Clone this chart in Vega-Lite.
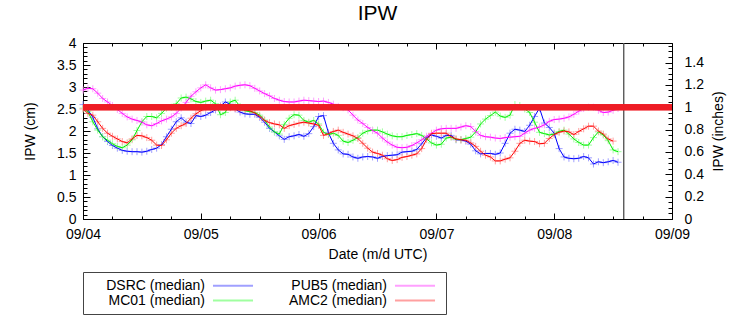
{
"$schema":"https://vega.github.io/schema/vega-lite/v6.json",
"autosize":{"type":"none"},
"padding":{"left":83,"top":43,"right":84,"bottom":105},
"width":589,"height":176,
"title":{"text":"IPW","font":"Liberation Sans","fontSize":21,"fontWeight":"normal","color":"black","offset":12,"anchor":"middle"},
"config":{"font":"Liberation Sans","view":{"stroke":"black","strokeWidth":1},
"axis":{"grid":false,"domain":false,"labelFont":"Liberation Sans","labelFontSize":14,"labelColor":"black","titleFont":"Liberation Sans","titleFontSize":14,"titleFontWeight":"normal","titleColor":"black","tickColor":"black","labelFlush":false,"labelOverlap":false}},
"datasets":{"ipw":[
{"t":"2024-09-04T00:00","DSRC":2.60,"MC01":2.52,"PUB5":2.93,"AMC2":2.50},
{"t":"2024-09-04T01:00","DSRC":2.48,"MC01":2.44,"PUB5":2.97,"AMC2":2.40},
{"t":"2024-09-04T02:00","DSRC":2.31,"MC01":2.21,"PUB5":2.96,"AMC2":2.36},
{"t":"2024-09-04T03:00","DSRC":2.05,"MC01":2.02,"PUB5":2.86,"AMC2":2.21},
{"t":"2024-09-04T04:00","DSRC":1.87,"MC01":1.87,"PUB5":2.74,"AMC2":2.06},
{"t":"2024-09-04T05:00","DSRC":1.76,"MC01":1.79,"PUB5":2.66,"AMC2":1.95},
{"t":"2024-09-04T06:00","DSRC":1.67,"MC01":1.71,"PUB5":2.58,"AMC2":1.88},
{"t":"2024-09-04T07:00","DSRC":1.61,"MC01":1.65,"PUB5":2.49,"AMC2":1.82},
{"t":"2024-09-04T08:00","DSRC":1.56,"MC01":1.62,"PUB5":2.40,"AMC2":1.76},
{"t":"2024-09-04T09:00","DSRC":1.54,"MC01":1.68,"PUB5":2.32,"AMC2":1.73},
{"t":"2024-09-04T10:00","DSRC":1.53,"MC01":1.80,"PUB5":2.27,"AMC2":1.82},
{"t":"2024-09-04T11:00","DSRC":1.53,"MC01":2.01,"PUB5":2.24,"AMC2":1.90},
{"t":"2024-09-04T12:00","DSRC":1.52,"MC01":2.21,"PUB5":2.20,"AMC2":1.89},
{"t":"2024-09-04T13:00","DSRC":1.54,"MC01":2.33,"PUB5":2.14,"AMC2":1.85},
{"t":"2024-09-04T14:00","DSRC":1.58,"MC01":2.33,"PUB5":2.12,"AMC2":1.79},
{"t":"2024-09-04T15:00","DSRC":1.61,"MC01":2.30,"PUB5":2.17,"AMC2":1.68},
{"t":"2024-09-04T16:00","DSRC":1.69,"MC01":2.40,"PUB5":2.23,"AMC2":1.67},
{"t":"2024-09-04T17:00","DSRC":1.87,"MC01":2.52,"PUB5":2.27,"AMC2":1.80},
{"t":"2024-09-04T18:00","DSRC":2.04,"MC01":2.54,"PUB5":2.32,"AMC2":1.95},
{"t":"2024-09-04T19:00","DSRC":2.21,"MC01":2.62,"PUB5":2.40,"AMC2":2.06},
{"t":"2024-09-04T20:00","DSRC":2.30,"MC01":2.75,"PUB5":2.52,"AMC2":2.12},
{"t":"2024-09-04T21:00","DSRC":2.20,"MC01":2.77,"PUB5":2.65,"AMC2":2.17},
{"t":"2024-09-04T22:00","DSRC":2.17,"MC01":2.73,"PUB5":2.79,"AMC2":2.29},
{"t":"2024-09-04T23:00","DSRC":2.35,"MC01":2.67,"PUB5":2.89,"AMC2":2.39},
{"t":"2024-09-05T00:00","DSRC":2.33,"MC01":2.65,"PUB5":2.98,"AMC2":2.46},
{"t":"2024-09-05T01:00","DSRC":2.36,"MC01":2.68,"PUB5":3.05,"AMC2":2.52},
{"t":"2024-09-05T02:00","DSRC":2.42,"MC01":2.70,"PUB5":2.98,"AMC2":2.52},
{"t":"2024-09-05T03:00","DSRC":2.48,"MC01":2.62,"PUB5":2.93,"AMC2":2.53},
{"t":"2024-09-05T04:00","DSRC":2.57,"MC01":2.37,"PUB5":2.94,"AMC2":2.55},
{"t":"2024-09-05T05:00","DSRC":2.66,"MC01":2.42,"PUB5":2.96,"AMC2":2.55},
{"t":"2024-09-05T06:00","DSRC":2.61,"MC01":2.66,"PUB5":2.98,"AMC2":2.53},
{"t":"2024-09-05T07:00","DSRC":2.50,"MC01":2.70,"PUB5":3.02,"AMC2":2.51},
{"t":"2024-09-05T08:00","DSRC":2.43,"MC01":2.56,"PUB5":3.04,"AMC2":2.48},
{"t":"2024-09-05T09:00","DSRC":2.39,"MC01":2.46,"PUB5":3.05,"AMC2":2.48},
{"t":"2024-09-05T10:00","DSRC":2.38,"MC01":2.44,"PUB5":3.03,"AMC2":2.46},
{"t":"2024-09-05T11:00","DSRC":2.38,"MC01":2.42,"PUB5":2.97,"AMC2":2.41},
{"t":"2024-09-05T12:00","DSRC":2.31,"MC01":2.36,"PUB5":2.91,"AMC2":2.33},
{"t":"2024-09-05T13:00","DSRC":2.20,"MC01":2.25,"PUB5":2.85,"AMC2":2.24},
{"t":"2024-09-05T14:00","DSRC":2.06,"MC01":2.09,"PUB5":2.80,"AMC2":2.19},
{"t":"2024-09-05T15:00","DSRC":1.98,"MC01":1.98,"PUB5":2.74,"AMC2":2.16},
{"t":"2024-09-05T16:00","DSRC":1.89,"MC01":1.93,"PUB5":2.70,"AMC2":2.14},
{"t":"2024-09-05T17:00","DSRC":1.81,"MC01":2.15,"PUB5":2.67,"AMC2":2.06},
{"t":"2024-09-05T18:00","DSRC":1.87,"MC01":2.29,"PUB5":2.66,"AMC2":2.12},
{"t":"2024-09-05T19:00","DSRC":1.89,"MC01":2.37,"PUB5":2.66,"AMC2":2.15},
{"t":"2024-09-05T20:00","DSRC":1.92,"MC01":2.36,"PUB5":2.68,"AMC2":2.18},
{"t":"2024-09-05T21:00","DSRC":1.88,"MC01":2.24,"PUB5":2.70,"AMC2":2.20},
{"t":"2024-09-05T22:00","DSRC":1.94,"MC01":2.20,"PUB5":2.69,"AMC2":2.18},
{"t":"2024-09-05T23:00","DSRC":2.10,"MC01":2.24,"PUB5":2.68,"AMC2":2.16},
{"t":"2024-09-06T00:00","DSRC":2.33,"MC01":2.16,"PUB5":2.67,"AMC2":2.13},
{"t":"2024-09-06T01:00","DSRC":2.35,"MC01":1.97,"PUB5":2.68,"AMC2":1.90},
{"t":"2024-09-06T02:00","DSRC":1.96,"MC01":1.92,"PUB5":2.65,"AMC2":1.94},
{"t":"2024-09-06T03:00","DSRC":1.72,"MC01":1.95,"PUB5":2.61,"AMC2":1.99},
{"t":"2024-09-06T04:00","DSRC":1.57,"MC01":1.90,"PUB5":2.56,"AMC2":2.02},
{"t":"2024-09-06T05:00","DSRC":1.48,"MC01":1.77,"PUB5":2.53,"AMC2":1.97},
{"t":"2024-09-06T06:00","DSRC":1.47,"MC01":1.74,"PUB5":2.48,"AMC2":1.93},
{"t":"2024-09-06T07:00","DSRC":1.41,"MC01":1.79,"PUB5":2.36,"AMC2":1.89},
{"t":"2024-09-06T08:00","DSRC":1.38,"MC01":1.85,"PUB5":2.25,"AMC2":1.83},
{"t":"2024-09-06T09:00","DSRC":1.41,"MC01":1.95,"PUB5":2.17,"AMC2":1.72},
{"t":"2024-09-06T10:00","DSRC":1.42,"MC01":2.00,"PUB5":2.08,"AMC2":1.61},
{"t":"2024-09-06T11:00","DSRC":1.41,"MC01":2.02,"PUB5":2.01,"AMC2":1.52},
{"t":"2024-09-06T12:00","DSRC":1.38,"MC01":2.02,"PUB5":1.95,"AMC2":1.49},
{"t":"2024-09-06T13:00","DSRC":1.42,"MC01":1.98,"PUB5":1.84,"AMC2":1.45},
{"t":"2024-09-06T14:00","DSRC":1.44,"MC01":1.93,"PUB5":1.75,"AMC2":1.37},
{"t":"2024-09-06T15:00","DSRC":1.45,"MC01":1.89,"PUB5":1.68,"AMC2":1.33},
{"t":"2024-09-06T16:00","DSRC":1.46,"MC01":1.87,"PUB5":1.63,"AMC2":1.35},
{"t":"2024-09-06T17:00","DSRC":1.52,"MC01":1.87,"PUB5":1.62,"AMC2":1.40},
{"t":"2024-09-06T18:00","DSRC":1.53,"MC01":1.90,"PUB5":1.63,"AMC2":1.42},
{"t":"2024-09-06T19:00","DSRC":1.54,"MC01":1.92,"PUB5":1.67,"AMC2":1.45},
{"t":"2024-09-06T20:00","DSRC":1.58,"MC01":1.94,"PUB5":1.73,"AMC2":1.48},
{"t":"2024-09-06T21:00","DSRC":1.71,"MC01":1.90,"PUB5":1.80,"AMC2":1.60},
{"t":"2024-09-06T22:00","DSRC":1.85,"MC01":1.82,"PUB5":1.88,"AMC2":1.81},
{"t":"2024-09-06T23:00","DSRC":1.91,"MC01":1.73,"PUB5":1.95,"AMC2":1.94},
{"t":"2024-09-07T00:00","DSRC":1.88,"MC01":1.68,"PUB5":2.02,"AMC2":1.95},
{"t":"2024-09-07T01:00","DSRC":1.84,"MC01":1.70,"PUB5":2.05,"AMC2":1.95},
{"t":"2024-09-07T02:00","DSRC":1.90,"MC01":1.84,"PUB5":2.06,"AMC2":1.95},
{"t":"2024-09-07T03:00","DSRC":1.90,"MC01":1.86,"PUB5":2.06,"AMC2":1.87},
{"t":"2024-09-07T04:00","DSRC":1.80,"MC01":1.81,"PUB5":2.06,"AMC2":1.82},
{"t":"2024-09-07T05:00","DSRC":1.80,"MC01":1.80,"PUB5":2.09,"AMC2":1.80},
{"t":"2024-09-07T06:00","DSRC":1.77,"MC01":1.83,"PUB5":2.12,"AMC2":1.79},
{"t":"2024-09-07T07:00","DSRC":1.70,"MC01":1.86,"PUB5":2.10,"AMC2":1.73},
{"t":"2024-09-07T08:00","DSRC":1.55,"MC01":1.98,"PUB5":1.99,"AMC2":1.65},
{"t":"2024-09-07T09:00","DSRC":1.48,"MC01":2.16,"PUB5":1.90,"AMC2":1.54},
{"t":"2024-09-07T10:00","DSRC":1.49,"MC01":2.27,"PUB5":1.87,"AMC2":1.45},
{"t":"2024-09-07T11:00","DSRC":1.49,"MC01":2.35,"PUB5":1.86,"AMC2":1.41},
{"t":"2024-09-07T12:00","DSRC":1.47,"MC01":2.43,"PUB5":1.84,"AMC2":1.32},
{"t":"2024-09-07T13:00","DSRC":1.50,"MC01":2.34,"PUB5":1.83,"AMC2":1.32},
{"t":"2024-09-07T14:00","DSRC":1.72,"MC01":2.31,"PUB5":1.85,"AMC2":1.36},
{"t":"2024-09-07T15:00","DSRC":1.95,"MC01":2.36,"PUB5":1.86,"AMC2":1.39},
{"t":"2024-09-07T16:00","DSRC":2.04,"MC01":2.60,"PUB5":1.87,"AMC2":1.54},
{"t":"2024-09-07T17:00","DSRC":2.02,"MC01":2.58,"PUB5":1.88,"AMC2":1.72},
{"t":"2024-09-07T18:00","DSRC":1.99,"MC01":2.50,"PUB5":1.95,"AMC2":1.79},
{"t":"2024-09-07T19:00","DSRC":2.13,"MC01":2.42,"PUB5":2.02,"AMC2":1.77},
{"t":"2024-09-07T20:00","DSRC":2.33,"MC01":2.20,"PUB5":2.06,"AMC2":1.76},
{"t":"2024-09-07T21:00","DSRC":2.52,"MC01":1.97,"PUB5":2.09,"AMC2":1.71},
{"t":"2024-09-07T22:00","DSRC":2.18,"MC01":1.94,"PUB5":2.14,"AMC2":1.72},
{"t":"2024-09-07T23:00","DSRC":2.08,"MC01":1.91,"PUB5":2.22,"AMC2":1.83},
{"t":"2024-09-08T00:00","DSRC":1.95,"MC01":1.93,"PUB5":2.26,"AMC2":1.92},
{"t":"2024-09-08T01:00","DSRC":1.60,"MC01":1.99,"PUB5":2.27,"AMC2":1.97},
{"t":"2024-09-08T02:00","DSRC":1.41,"MC01":2.02,"PUB5":2.29,"AMC2":2.00},
{"t":"2024-09-08T03:00","DSRC":1.38,"MC01":1.93,"PUB5":2.32,"AMC2":1.98},
{"t":"2024-09-08T04:00","DSRC":1.37,"MC01":1.82,"PUB5":2.38,"AMC2":1.92},
{"t":"2024-09-08T05:00","DSRC":1.38,"MC01":1.74,"PUB5":2.45,"AMC2":1.99},
{"t":"2024-09-08T06:00","DSRC":1.42,"MC01":1.68,"PUB5":2.51,"AMC2":2.05},
{"t":"2024-09-08T07:00","DSRC":1.39,"MC01":1.68,"PUB5":2.54,"AMC2":2.11},
{"t":"2024-09-08T08:00","DSRC":1.25,"MC01":1.85,"PUB5":2.54,"AMC2":2.11},
{"t":"2024-09-08T09:00","DSRC":1.30,"MC01":1.98,"PUB5":2.47,"AMC2":2.00},
{"t":"2024-09-08T10:00","DSRC":1.28,"MC01":1.91,"PUB5":2.42,"AMC2":1.93},
{"t":"2024-09-08T11:00","DSRC":1.30,"MC01":1.78,"PUB5":2.43,"AMC2":1.82},
{"t":"2024-09-08T12:00","DSRC":1.33,"MC01":1.57,"PUB5":2.47,"AMC2":1.77},
{"t":"2024-09-08T13:00","DSRC":1.29,"MC01":1.53,"PUB5":2.51}
],
"now":[{"t":"2024-09-08T14:10"}]},
"layer":[
{"data":{"name":"ipw"},
 "transform":[{"fold":["DSRC","MC01","PUB5","AMC2"],"as":["site","v"]},{"filter":"isValid(datum.v)"}],
 "mark":{"type":"point","shape":"M-1,0H1M0,-1V1","filled":false,"strokeWidth":1,"size":49,"opacity":1},
 "encoding":{
  "x":{"field":"t","type":"temporal","scale":{"domain":["2024-09-04T00:00","2024-09-09T00:00"]},
       "axis":{"orient":"top","labels":false,"title":null,"tickCount":{"interval":"day","step":1},"tickSize":-6}},
  "y":{"field":"v","type":"quantitative","scale":{"domain":[0,4],"nice":false},"axis":null},
  "color":{"field":"site","type":"nominal",
       "scale":{"domain":["DSRC","MC01","PUB5","AMC2"],"range":["#a0a0ff","#a0ffa0","#ffa0ff","#ffa0a0"]},
       "legend":{"orient":"none","legendX":0,"legendY":229,"columns":2,"title":null,
                 "symbolType":"M17.92,0H24.08","symbolSize":169,"symbolStrokeWidth":2,
                 "labelFont":"Liberation Sans","labelFontSize":14,"labelColor":"black","labelAlign":"right","labelOffset":101,
                 "labelExpr":"datum.label + ' (median)'","strokeColor":"#444444","padding":6,"columnPadding":13,"rowPadding":0}}
 }},
{"data":{"name":"ipw"},
 "transform":[{"fold":["DSRC","MC01","PUB5","AMC2"],"as":["site","v"]},{"filter":"isValid(datum.v)"}],
 "mark":{"type":"line","strokeWidth":1},
 "encoding":{
  "x":{"field":"t","type":"temporal","scale":{"domain":["2024-09-04T00:00","2024-09-09T00:00"]},
       "axis":{"orient":"bottom","title":"Date (m/d UTC)","format":"%m/%d","tickCount":{"interval":"day","step":1},"tickSize":-6,"labelPadding":14,"titlePadding":6}},
  "y":{"field":"v","type":"quantitative","scale":{"domain":[0,4],"nice":false},
       "axis":{"orient":"left","title":"IPW (cm)","values":[0,0.5,1,1.5,2,2.5,3,3.5,4],"format":"~g","tickSize":-7,"labelPadding":14,"titlePadding":19}},
  "stroke":{"field":"site","type":"nominal","scale":{"domain":["DSRC","MC01","PUB5","AMC2"],"range":["#0000ff","#00ee00","#ff00ff","#ff0000"]},"legend":null}
 }},
{"data":{"name":"now"},
 "mark":{"type":"rule","color":"#555555","strokeWidth":1},
 "encoding":{"x":{"field":"t","type":"temporal",
   "axis":{"orient":"bottom","labels":false,"title":null,"tickCount":{"interval":"hours","step":6},"tickSize":-3}}}},
{"data":{"name":"now"},
 "mark":{"type":"rule","color":"#555555","strokeWidth":1},
 "encoding":{"x":{"field":"t","type":"temporal",
   "axis":{"orient":"top","labels":false,"title":null,"tickCount":{"interval":"hours","step":6},"tickSize":-3}}}},
{"data":{"values":[{}]},
 "mark":{"type":"rule","color":"#ee1c25","strokeWidth":6},
 "encoding":{"y":{"datum":2.54,"type":"quantitative","scale":{"domain":[0,4],"nice":false},
   "axis":{"orient":"left","labels":false,"title":null,"values":[0.1,0.2,0.3,0.4,0.6,0.7,0.8,0.9,1.1,1.2,1.3,1.4,1.6,1.7,1.8,1.9,2.1,2.2,2.3,2.4,2.6,2.7,2.8,2.9,3.1,3.2,3.3,3.4,3.6,3.7,3.8,3.9],"tickSize":-4}}}},
{"data":{"values":[{}]},
 "mark":{"type":"rule","color":"#ee1c25","strokeWidth":6},
 "encoding":{"y":{"datum":1,"type":"quantitative","scale":{"domain":[0,1.5748],"nice":false},
   "axis":{"orient":"right","title":"IPW (inches)","values":[0,0.2,0.4,0.6,0.8,1,1.2,1.4],"format":"~g","tickSize":-7,"labelPadding":19,"titlePadding":8,"titleAngle":270,"titleBaseline":"top"}}}},
{"data":{"values":[{}]},
 "mark":{"type":"rule","color":"#ee1c25","strokeWidth":6},
 "encoding":{"y":{"datum":1,"type":"quantitative","scale":{"domain":[0,1.5748],"nice":false},
   "axis":{"orient":"right","labels":false,"title":null,"values":[0.05,0.1,0.15,0.25,0.3,0.35,0.45,0.5,0.55,0.65,0.7,0.75,0.85,0.9,0.95,1.05,1.1,1.15,1.25,1.3,1.35,1.45,1.5,1.55],"tickSize":-4}}}}
],
"resolve":{"scale":{"y":"independent"},"axis":{"x":"independent","y":"independent"}}
}
